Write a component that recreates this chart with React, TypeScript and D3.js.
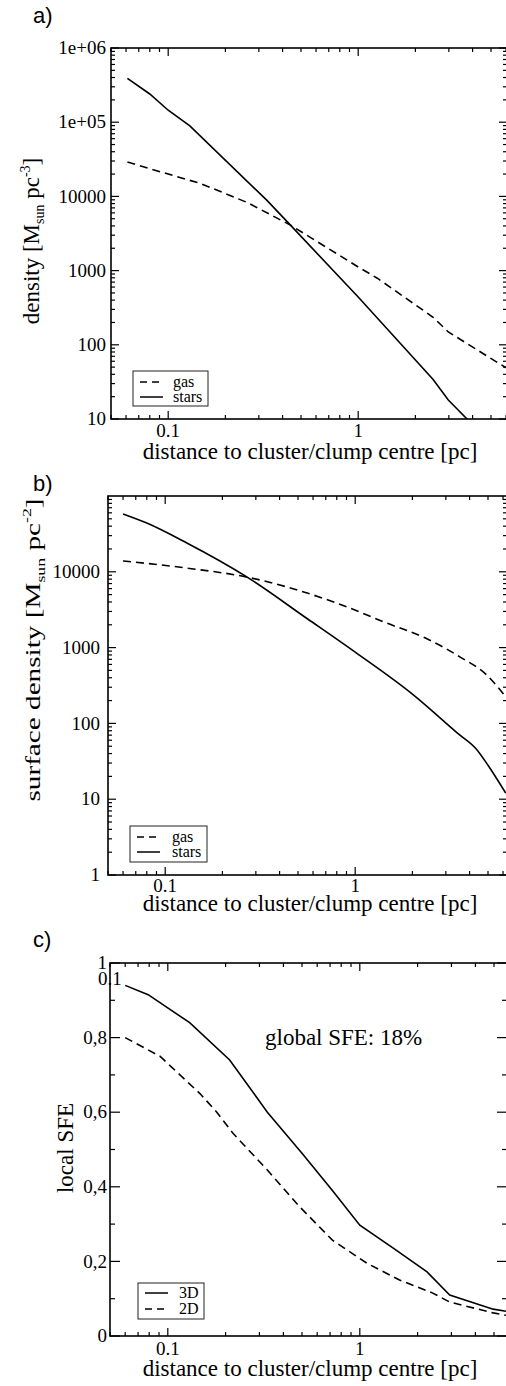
import React from 'react';
import * as d3 from 'd3';

const W = 506;
const H = 1386;
const SERIF = '"Liberation Serif", "Times New Roman", serif';
const SANS = '"Liberation Sans", Arial, sans-serif';
const FRAME_R = 507;

// a) volume density profiles
const gasAR = [0.061, 0.1, 0.147, 0.26, 0.44, 1, 1.26, 2.48, 2.98, 6];
const gasA = [29000, 20000, 15000, 8300, 4100, 1120, 790, 235, 149, 49];
const starsAR = [0.061, 0.08, 0.1, 0.13, 0.33, 0.44, 1, 2.48, 2.98, 4.2];
const starsA = [390000, 240000, 145000, 89000, 8900, 4100, 440, 34, 18, 7.4];

// b) surface density profiles
const gasBR = [0.06, 0.13, 0.27, 0.77, 1.47, 2.4, 3.57, 4.9, 6.2];
const gasB = [13900, 11200, 8500, 4000, 2100, 1300, 750, 440, 224];
const starsBR = [0.06, 0.08, 0.13, 0.27, 0.56, 1, 2.03, 3.44, 4.37, 5.0, 6.2];
const starsB = [58000, 44000, 24000, 8500, 2400, 870, 236, 75, 45, 28, 12];

// c) local star formation efficiency
const sfe3DR = [0.06, 0.079, 0.13, 0.21, 0.33, 0.5, 0.72, 1, 1.5, 2.24, 2.94, 4.95, 6];
const sfe3D = [0.94, 0.915, 0.84, 0.74, 0.6, 0.49, 0.39, 0.297, 0.235, 0.172, 0.11, 0.072, 0.065];
const sfe2DR = [0.06, 0.091, 0.147, 0.18, 0.218, 0.33, 0.487, 0.72, 1.09, 1.61, 2.4, 2.94, 4.95, 6];
const sfe2D = [0.8, 0.75, 0.65, 0.6, 0.544, 0.445, 0.346, 0.257, 0.195, 0.15, 0.115, 0.091, 0.062, 0.054];

// tick labels
const xTickVals = [0.1, 1];
const xTickLabels = ['0.1', '1'];
const aTickVals = [10, 100, 1000, 10000, 1e5, 1e6];
const aTickLabels = ['10', '100', '1000', '10000', '1e+05', '1e+06'];
const bTickVals = [1, 10, 100, 1000, 10000];
const bTickLabels = ['1', '10', '100', '1000', '10000'];
const cTickVals = [0, 0.2, 0.4, 0.6, 0.8, 1];
const cTickLabels = ['0', '0,2', '0,4', '0,6', '0,8', '1'];

const DASH = '8,5';

const makeX = (left: number, decade: number) =>
  d3.scaleLog()
    .domain([0.05, 0.05 * Math.pow(10, (FRAME_R - left) / decade)])
    .range([left, FRAME_R]);

const isDecade = (v: number) => Math.abs(Math.log10(v) - Math.round(Math.log10(v))) < 1e-6;

function Panel(props: any) {
  const { id, x, y, top, bottom, yMajor, yLabels, yMinor, yMajLen, yMinLen, labelGap,
    series, xTickY, xLabelY, smooth } = props;
  const left = x.range()[0];
  const right = FRAME_R;
  const lineGen = (xs: number[], ys: number[]) =>
    d3.line<number>()
      .x((d, i) => x(xs[i]))
      .y((d) => y(d))
      .curve(smooth ? d3.curveMonotoneX : d3.curveLinear)(ys) || '';
  const xt = x.ticks();
  return (
    <g>
      <defs>
        <clipPath id={id}>
          <rect x={left} y={top} width={right - left} height={bottom - top} />
        </clipPath>
      </defs>
      <g clipPath={`url(#${id})`}>
        {series.map((s: any, i: number) => (
          <path key={i} d={lineGen(s.xs, s.ys)} fill="none" stroke="#000" strokeWidth={1.6}
            strokeDasharray={s.dash ? DASH : undefined} />
        ))}
      </g>
      {/* x ticks, bottom and top */}
      {xt.map((t: number, i: number) => {
        const len = isDecade(t) ? 8 : 4;
        const px = x(t);
        return (
          <g key={'xt' + i} stroke="#000" strokeWidth={1.2}>
            <line x1={px} x2={px} y1={bottom} y2={bottom - len} />
            <line x1={px} x2={px} y1={top} y2={top + len} />
          </g>
        );
      })}
      {/* y ticks, left and right */}
      {yMinor.map((t: number, i: number) => (
        <g key={'ym' + i} stroke="#000" strokeWidth={1.2}>
          <line x1={left} x2={left + yMinLen} y1={y(t)} y2={y(t)} />
          <line x1={right} x2={right - yMinLen} y1={y(t)} y2={y(t)} />
        </g>
      ))}
      {yMajor.map((t: number, i: number) => (
        <g key={'yM' + i} stroke="#000" strokeWidth={1.2}>
          <line x1={left} x2={left + yMajLen} y1={y(t)} y2={y(t)} />
          <line x1={right} x2={right - yMajLen} y1={y(t)} y2={y(t)} />
        </g>
      ))}
      <rect x={left} y={top} width={right - left} height={bottom - top} fill="none"
        stroke="#000" strokeWidth={1.6} />
      {yMajor.map((t: number, i: number) => (
        <text key={'yl' + i} x={left - labelGap} y={y(t)} dy="0.33em" textAnchor="end"
          fontFamily={SERIF} fontSize={19}>{yLabels[i]}</text>
      ))}
      {xTickVals.map((t, i) => (
        <text key={'xl' + i} x={x(t)} y={xTickY} textAnchor="middle" fontFamily={SERIF}
          fontSize={19}>{xTickLabels[i]}</text>
      ))}
      <text x={310} y={xLabelY} textAnchor="middle" fontFamily={SERIF} fontSize={23}>
        distance to cluster/clump centre [pc]
      </text>
    </g>
  );
}

function Legend({ x, y, w, h, items, textX }: any) {
  return (
    <g>
      <rect x={x} y={y} width={w} height={h} fill="#fff" stroke="#222" strokeWidth={1} />
      {items.map((it: any, i: number) => (
        <g key={i}>
          <line x1={x + 7} x2={x + 30} y1={it.y} y2={it.y} stroke="#000" strokeWidth={1.5}
            strokeDasharray={it.dash ? '7,5' : undefined} />
          <text x={textX} y={it.y + 5} fontFamily={SERIF} fontSize={16}>{it.label}</text>
        </g>
      ))}
    </g>
  );
}

export default function App() {
  const xA = makeX(111, 190);
  const yA = d3.scaleLog().domain([10, 1e6]).range([419, 48]);
  const xB = makeX(108, 190);
  const yB = d3.scaleLog().domain([1, 1e5]).range([875, 496]);
  const xC = makeX(110, 192);
  const yC = d3.scaleLinear().domain([0, 1]).range([1336, 963]);

  const aMinor = yA.ticks().filter((t) => !isDecade(t));
  const bMinor = yB.ticks().filter((t) => !isDecade(t));
  const cMinor = yC.ticks(10).filter((t) => Math.round(t * 10) % 2 === 1);

  return (
    <svg width={W} height={H} style={{ display: 'block', position: 'absolute', left: 0, top: 0 }}
      xmlns="http://www.w3.org/2000/svg">
      <rect width={W} height={H} fill="#fff" />

      {/* panel a */}
      <text x={33} y={23} fontFamily={SANS} fontSize={22}>a)</text>
      <Panel id="clipA" x={xA} y={yA} top={48} bottom={419} yMajor={aTickVals}
        yLabels={aTickLabels} yMinor={aMinor} yMajLen={8} yMinLen={4} labelGap={5}
        xTickY={437} xLabelY={459}
        series={[{ xs: gasAR, ys: gasA, dash: true }, { xs: starsAR, ys: starsA }]} />
      <Legend x={133} y={371} w={75} h={35} textX={173}
        items={[{ y: 382, label: 'gas', dash: true }, { y: 397, label: 'stars' }]} />
      <text transform="translate(39,241) rotate(-90)" textAnchor="middle" fontFamily={SERIF}
        fontSize={23}>
        density [M<tspan fontSize={14} dy={5}>sun</tspan>
        <tspan dy={-5}> pc</tspan>
        <tspan fontSize={14} dy={-9}>-3</tspan>
        <tspan dy={9}>]</tspan>
      </text>

      {/* panel b */}
      <text x={33} y={491} fontFamily={SANS} fontSize={22}>b)</text>
      <Panel id="clipB" x={xB} y={yB} top={496} bottom={875} yMajor={bTickVals}
        yLabels={bTickLabels} yMinor={bMinor} yMajLen={8} yMinLen={4} labelGap={8}
        xTickY={892} xLabelY={911} smooth
        series={[{ xs: gasBR, ys: gasB, dash: true }, { xs: starsBR, ys: starsB }]} />
      <Legend x={130} y={826} w={77} h={36} textX={172}
        items={[{ y: 837, label: 'gas', dash: true }, { y: 852, label: 'stars' }]} />
      <text transform="translate(40,650) rotate(-90) scale(1.27,0.92)" textAnchor="middle"
        fontFamily={SERIF} fontSize={23}>
        surface density [M<tspan fontSize={14} dy={5}>sun</tspan>
        <tspan dy={-5}> pc</tspan>
        <tspan fontSize={14} dy={-10}>-2</tspan>
        <tspan dy={10}>]</tspan>
      </text>

      {/* panel c */}
      <text x={33} y={947} fontFamily={SANS} fontSize={22}>c)</text>
      <Panel id="clipC" x={xC} y={yC} top={963} bottom={1336} yMajor={cTickVals}
        yLabels={cTickLabels} yMinor={cMinor} yMajLen={10} yMinLen={5} labelGap={3}
        xTickY={1355} xLabelY={1376}
        series={[{ xs: sfe3DR, ys: sfe3D }, { xs: sfe2DR, ys: sfe2D, dash: true }]} />
      <text x={98} y={985} fontFamily={SERIF} fontSize={19}>0.1</text>
      <Legend x={138} y={1283} w={66} h={36} textX={179}
        items={[{ y: 1293, label: '3D' }, { y: 1309, label: '2D', dash: true }]} />
      <text x={265} y={1045} fontFamily={SERIF} fontSize={23}>global SFE: 18%</text>
      <text transform="translate(73,1148) rotate(-90)" textAnchor="middle" fontFamily={SERIF}
        fontSize={23}>local SFE</text>
    </svg>
  );
}
